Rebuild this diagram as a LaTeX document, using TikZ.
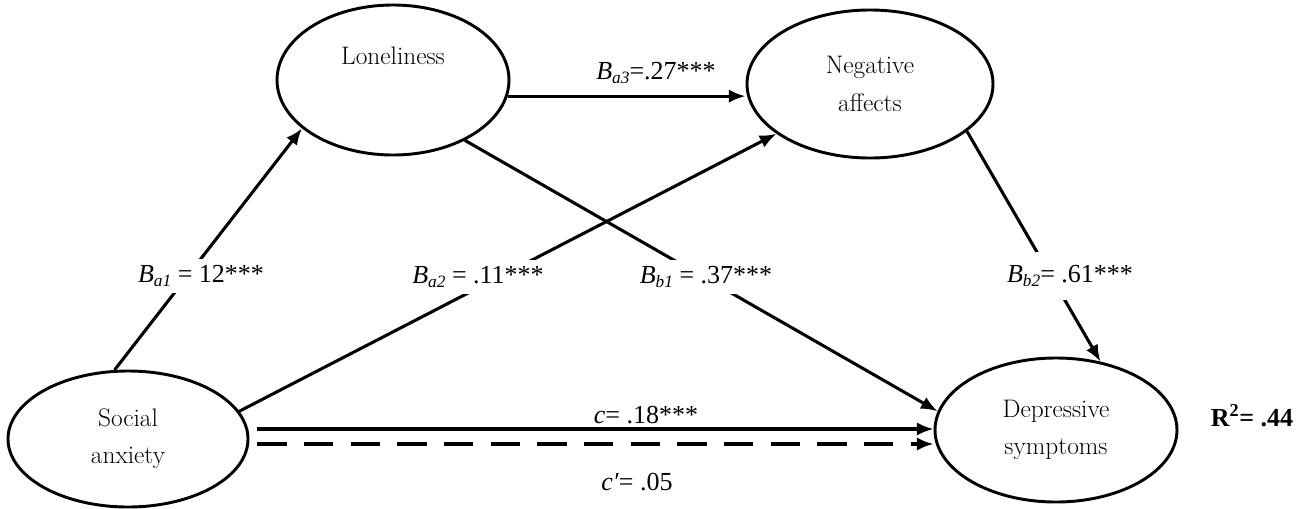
\documentclass[tikz,border=0pt]{standalone}
\usepackage{fontspec}
\newfontfamily\lab{Liberation Serif}
\usetikzlibrary{shapes.geometric,arrows.meta}
\newcommand\sbs[1]{\raisebox{-0.35ex}{\fontsize{13}{13}\selectfont\itshape #1}}
\begin{document}
\begin{tikzpicture}[x=0.75pt,y=-0.75pt,
  latent/.style={ellipse,draw,line width=2.2pt,inner sep=0pt,align=center,
    font=\fontsize{19}{28}\selectfont},
  pathline/.style={line width=2.3pt},
  arr/.style={pathline,-{Latex[length=12.5pt,width=10pt]}},
  coef/.style={fill=white,inner sep=5pt,font=\lab\fontsize{19.5}{21}\selectfont},
  coefnf/.style={inner sep=2pt,font=\lab\fontsize{19.5}{21}\selectfont},
]
\useasboundingbox[fill=white] (0,0) rectangle (1304,508);
% latent variables
\node[latent,minimum width=180pt,minimum height=102pt] (soc) at (128,439) {Social\\anxiety};
\node[latent,minimum width=174pt,minimum height=112.5pt] (lon) at (393,80) {Loneliness\\\strut};
\node[latent,minimum width=184.5pt,minimum height=111pt] (neg) at (870,84) {Negative\\affects};
\node[latent,minimum width=181.5pt,minimum height=108pt] (dep) at (1056,430) {Depressive\\symptoms};
% paths
\draw[arr] (soc.101) -- (lon.208);
\draw[arr] (soc.14) -- (neg.208);
\draw[arr] (lon.-40) -- (dep.171);
\draw[arr] (neg.-26) -- (dep.57);
\draw[arr] (lon.-8) -- (neg.west |- lon.-8);
\coordinate (cs) at ([shift={(8,-10)}]soc.east);
\coordinate (cps) at ([shift={(8,5)}]soc.east);
\draw[arr] (cs) -- (cs -| dep.west);
\draw[arr,dash pattern=on 22pt off 13pt] (cps) -- (cps -| dep.west);
% coefficients
\node[coef] (la1) at (201,276) {\textit{B}\sbs{a1} = 12***};
\node[coef] (la2) at (478,277) {\textit{B}\sbs{a2} = .11***};
\node[coef] (lb1) at (706,277) {\textit{B}\sbs{b1} = .37***};
\node[coef,inner ysep=10pt] (lb2) at (1070,276) {\textit{B}\sbs{b2}= .61***};
\node[coefnf] (la3) at (656,73) {\textit{B}\sbs{a3}=.27***};
\node[coefnf] (lc) at (646,415) {\textit{c}= .18***};
\node[coefnf] (lcp) at (637,482) {\textit{c\char"2032}= .05};
\node[coefnf] (r2) at (1252,416) {\textbf{R\textsuperscript{2}= .44}};
\end{tikzpicture}
\end{document}
